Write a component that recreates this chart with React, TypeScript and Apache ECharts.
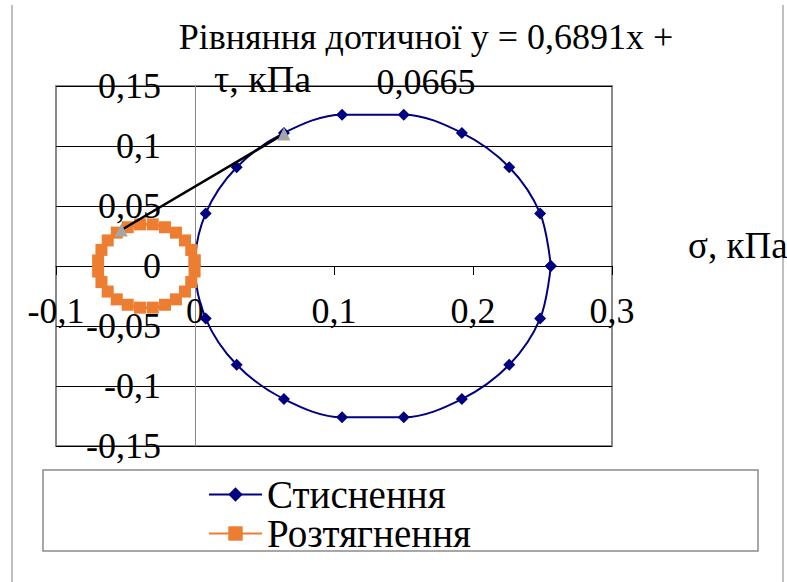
import React, { useEffect, useRef } from "react";
import * as echarts from "echarts";

// Стиснення (compression) Mohr circle points [σ, τ]
const compressionSigma = [0.256, 0.2483, 0.2261, 0.192, 0.1502, 0.1058, 0.064, 0.03, 0.0077, 0, 0.0077, 0.03, 0.064, 0.1058, 0.1502, 0.192, 0.2261, 0.2483, 0.256];
const compressionTau = [0, 0.0438, 0.0823, 0.1109, 0.1261, 0.1261, 0.1109, 0.0823, 0.0438, 0, -0.0438, -0.0823, -0.1109, -0.1261, -0.1261, -0.1109, -0.0823, -0.0438, 0];

// Розтягнення (tension) Mohr circle points [σ, τ]
const tensionSigma = [-0.0003, -0.0027, -0.0072, -0.0137, -0.0216, -0.0304, -0.0396, -0.0484, -0.0563, -0.0628, -0.0673, -0.0697, -0.0697, -0.0673, -0.0628, -0.0563, -0.0484, -0.0396, -0.0304, -0.0216, -0.0137, -0.0072, -0.0027, -0.0003, -0.0003];
const tensionTau = [0.0046, 0.0134, 0.0213, 0.0278, 0.0323, 0.0347, 0.0347, 0.0323, 0.0278, 0.0213, 0.0134, 0.0046, -0.0046, -0.0134, -0.0213, -0.0278, -0.0323, -0.0347, -0.0347, -0.0323, -0.0278, -0.0213, -0.0134, -0.0046, 0.0046];

// Tangent line points
const tangentSigma = [-0.053, 0.064];
const tangentTau = [0.03, 0.11];

const seriesNames = ["Стиснення", "Розтягнення"];
const titleText = "Рівняння дотичної y = 0,6891x +\n0,0665";
const yAxisTitle = "τ, кПа";
const xAxisTitle = "σ, кПа";

const FONT = "Liberation Serif";

const X_MIN = -0.1;
const X_MAX = 0.3;
const Y_MIN = -0.15;
const Y_MAX = 0.15;

const GRID_LEFT = 56;
const GRID_RIGHT = 175;
const GRID_TOP = 86;
const GRID_BOTTOM = 136;
const W = 787;
const H = 582;

const zip = (xs: number[], ys: number[]) => xs.map((x, i) => [x, ys[i]]);
const fmt = (v: number) => String(Number(v.toFixed(4))).replace(".", ",");

export default function App() {
  const ref = useRef<HTMLDivElement>(null);
  useEffect(() => {
    if (!ref.current) return;
    const chart = echarts.init(ref.current, null, { renderer: "svg" });
    const plotW = W - GRID_LEFT - GRID_RIGHT;
    const plotH = H - GRID_TOP - GRID_BOTTOM;
    // offsets that move each axis onto the other's zero
    const yAxisOffset = -((0 - X_MIN) / (X_MAX - X_MIN)) * plotW;
    const xAxisOffset = -((0 - Y_MIN) / (Y_MAX - Y_MIN)) * plotH;
    const txt = { fontFamily: FONT, fontSize: 36, color: "#000" };
    chart.setOption({
      animation: false,
      backgroundColor: "#fff",
      textStyle: { fontFamily: FONT },
      title: {
        text: titleText,
        left: 421,
        top: 9,
        textAlign: "center",
        textStyle: { ...txt, fontWeight: "normal", lineHeight: 45 },
      },
      grid: {
        left: GRID_LEFT,
        right: GRID_RIGHT,
        top: GRID_TOP,
        bottom: GRID_BOTTOM,
        containLabel: false,
        outerBoundsMode: "none",
        show: true,
        borderColor: "#8a8a8a",
        borderWidth: 2,
        backgroundColor: "transparent",
      },
      legend: {
        data: seriesNames,
        orient: "vertical",
        left: 208,
        top: 475,
        padding: 0,
        itemGap: 0,
        itemWidth: 53,
        itemHeight: 18,
        textStyle: { ...txt, fontSize: 39, lineHeight: 35 },
      },
      xAxis: {
        type: "value",
        min: X_MIN,
        max: X_MAX,
        interval: 0.1,
        position: "bottom",
        offset: xAxisOffset,
        axisLine: { show: true, onZero: false, lineStyle: { color: "#000", width: 1 } },
        axisTick: { show: true, length: 9, lineStyle: { color: "#000" } },
        axisLabel: { ...txt, formatter: fmt, margin: 27 },
        splitLine: { show: false },
      },
      yAxis: {
        type: "value",
        min: Y_MIN,
        max: Y_MAX,
        interval: 0.05,
        position: "left",
        offset: yAxisOffset,
        axisLine: { show: true, onZero: false, lineStyle: { color: "#8a8a8a", width: 1 } },
        axisTick: { show: true, length: 9, lineStyle: { color: "#000" } },
        axisLabel: { ...txt, formatter: fmt, margin: 34 },
        splitLine: { show: true, lineStyle: { color: "#000", width: 1 } },
      },
      graphic: [
        { type: "line", shape: { x1: 12, y1: 5, x2: 12, y2: 582 }, style: { stroke: "#aaa", lineWidth: 1.5 } },
        { type: "line", shape: { x1: 783, y1: 5, x2: 783, y2: 582 }, style: { stroke: "#aaa", lineWidth: 1.5 } },
        { type: "rect", shape: { x: 43, y: 470, width: 715, height: 81 }, style: { fill: "none", stroke: "#8a8a8a", lineWidth: 1.5 }, z: 0 },
        { type: "text", x: 214, y: 79, style: { text: yAxisTitle, fontFamily: FONT, fontSize: 38, fill: "#000", verticalAlign: "middle" } },
        { type: "text", x: 688, y: 245, style: { text: xAxisTitle, fontFamily: FONT, fontSize: 37, fill: "#000", verticalAlign: "middle" } },
      ],
      series: [
        {
          name: seriesNames[0],
          type: "line",
          data: zip(compressionSigma, compressionTau),
          smooth: 0.34,
          symbol: "diamond",
          symbolSize: 12,
          color: "#000080",
          itemStyle: { color: "#000080" },
          lineStyle: { color: "#000080", width: 2 },
          z: 3,
        },
        {
          name: seriesNames[1],
          type: "line",
          data: zip(tensionSigma, tensionTau),
          smooth: 0.34,
          symbol: "rect",
          symbolSize: 12,
          color: "#ED7D31",
          itemStyle: { color: "#ED7D31" },
          lineStyle: { color: "#ED7D31", width: 3 },
          z: 4,
        },
        {
          name: "tangent",
          type: "line",
          data: zip(tangentSigma, tangentTau),
          symbol: "triangle",
          symbolSize: 13,
          itemStyle: { color: "#A5A5A5" },
          lineStyle: { color: "#000", width: 2.5 },
          z: 5,
        },
      ],
    });
    return () => chart.dispose();
  }, []);
  return (
    <div
      ref={ref}
      style={{ position: "fixed", left: 0, top: 0, width: W, height: H }}
    />
  );
}
